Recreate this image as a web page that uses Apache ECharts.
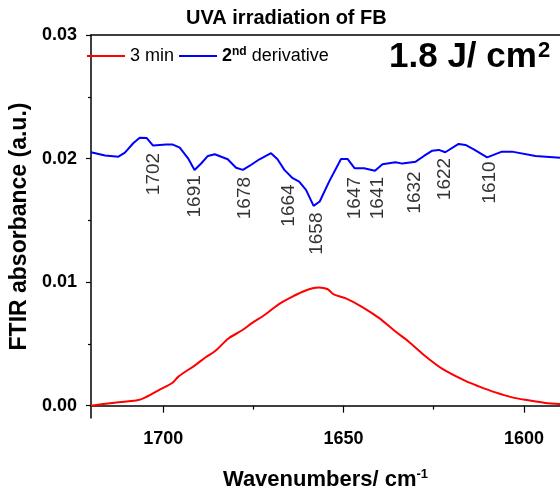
<!DOCTYPE html>
<html>
<head>
    <meta charset="utf-8">
    <title>UVA irradiation of FB</title>
    <script src="https://cdn.jsdelivr.net/npm/echarts@6/dist/echarts.min.js"></script>
</head>
<body style="margin:0">
<div id="main" style="width: 560px;height:492px;"></div>
<script type="text/javascript">
    // 3 min spectrum
    var wn3min = [1720, 1714, 1707.2, 1704.9, 1700.7, 1697.5, 1695.7, 1691, 1688.3, 1685.5, 1681.8, 1678.1, 1675.3,
        1671.6, 1668, 1664.3, 1661.5, 1658.6, 1656.8, 1654.5, 1652.7, 1649.5, 1644.9, 1640.2, 1635.6, 1632,
        1627.3, 1622.7, 1616.2, 1612.5, 1607.9, 1603.3, 1598.7, 1594.1, 1590];
    var abs3min = [0.0000, 0.00022, 0.00043, 0.00067, 0.00134, 0.00183, 0.00237, 0.0033, 0.0039, 0.00444, 0.00546, 0.0061, 0.0067,
        0.0074, 0.0082, 0.0088, 0.0092, 0.0095, 0.00957, 0.00944, 0.0090, 0.0087, 0.0080, 0.0071, 0.0060, 0.0052,
        0.0040, 0.0030, 0.0020, 0.00156, 0.00107, 0.00067, 0.00043, 0.00022, 0.00014];

    // 2nd derivative (offset)
    var wnDeriv = [1720, 1716.1, 1712.4, 1710.6, 1708.3, 1706.5, 1704.6, 1702.8, 1699.1, 1697.3, 1695.4, 1693.1, 1691.3,
        1689.4, 1687.6, 1685.7, 1682.1, 1679.8, 1677.9, 1676.1, 1673.3, 1670.1, 1668.3, 1666.4, 1664.1, 1662.3,
        1660.4, 1658.3, 1656.6, 1654, 1650.7, 1648.9, 1646.9, 1644.3, 1641.3, 1639.2, 1635.6, 1633.7, 1630,
        1627.7, 1625.4, 1623.6, 1621.8, 1618.1, 1616.2, 1613.9, 1610.2, 1606.1, 1603.3, 1596.8, 1590];
    var absDeriv = [0.02051, 0.02024, 0.02015, 0.02048, 0.02124, 0.02169, 0.02167, 0.02105, 0.02113, 0.02113, 0.02088, 0.02002, 0.01908,
        0.01962, 0.02021, 0.02035, 0.01994, 0.01926, 0.01908, 0.0194, 0.01994, 0.02043, 0.01994, 0.01908, 0.01841, 0.01813,
        0.01746, 0.01617, 0.01652, 0.01813, 0.01997, 0.01997, 0.01921, 0.01921, 0.01902, 0.01954, 0.0197, 0.01959, 0.01975,
        0.02021, 0.02064, 0.0207, 0.02051, 0.02118, 0.0211, 0.02075, 0.0201, 0.02056, 0.02056, 0.02021, 0.02007];

    // band labels and where they sit
    var peaks = ['1702', '1691', '1678', '1664', '1658', '1647', '1641', '1632', '1622', '1610'];
    var peakX = [1702.7, 1691.2, 1677.5, 1665.3, 1657.3, 1647.0, 1640.4, 1630.2, 1621.9, 1609.4];
    var peakY = [0.01875, 0.01694, 0.0168, 0.0162, 0.01392, 0.0168, 0.0168, 0.01725, 0.01834, 0.01806];

    var xMajor = [1600, 1650, 1700];
    var xMinor = [1625, 1675];
    var yMajor = [0, 0.01, 0.02, 0.03];
    var yMinor = [0.005, 0.015, 0.025];

    function pairs(xs, ys) {
        return xs.map(function (x, i) { return [x, ys[i]]; });
    }

    var FONT = 'Liberation Sans, Arial, sans-serif';
    var axisCol = '#000';

    var myChart = echarts.init(document.getElementById('main'));

    var option = {
        animation: false,
        textStyle: {fontFamily: FONT},
        title: [
            {
                text: 'UVA irradiation of FB',
                left: 181,
                top: 3,
                textStyle: {fontSize: 20, fontWeight: 'bold', color: '#000', fontFamily: FONT}
            },
            {
                text: '{a|1.8 J/ cm}{b|2}',
                left: 384,
                top: 35,
                textStyle: {
                    rich: {
                        a: {fontSize: 35, fontWeight: 'bold', color: '#000', fontFamily: FONT},
                        b: {fontSize: 22, fontWeight: 'bold', color: '#000', fontFamily: FONT, verticalAlign: 'top', padding: [0, 0, 10, 1]}
                    }
                }
            }
        ],
        legend: {
            left: 81,
            top: 41,
            itemWidth: 38,
            itemHeight: 2,
            itemGap: 4,
            data: ['3 min', '2nd derivative'],
            formatter: function (name) {
                if (name === '2nd derivative') {
                    return '{b|2}{s|nd}{t| derivative}';
                }
                return '{t|' + name + '}';
            },
            textStyle: {
                rich: {
                    t: {fontSize: 18, color: '#000', fontFamily: FONT},
                    b: {fontSize: 18, fontWeight: 'bold', color: '#000', fontFamily: FONT},
                    s: {fontSize: 12, fontWeight: 'bold', color: '#000', fontFamily: FONT, verticalAlign: 'top', padding: [0, 0, 8, 0]}
                }
            }
        },
        grid: {left: 91, right: 0, top: 35, bottom: 74, outerBoundsMode: 'none', containLabel: false},
        xAxis: [
            {
                type: 'value',
                min: 1590,
                max: 1720,
                inverse: true,
                position: 'bottom',
                name: '{n|Wavenumbers/ cm}{s|-1}',
                nameLocation: 'middle',
                nameGap: 50,
                nameTextStyle: {
                    rich: {
                        n: {fontSize: 22, fontWeight: 'bold', color: '#000', fontFamily: FONT},
                        s: {fontSize: 13, fontWeight: 'bold', color: '#000', fontFamily: FONT, verticalAlign: 'top', padding: [0, 0, 10, 0]}
                    }
                },
                axisLine: {lineStyle: {color: axisCol, width: 1.5}},
                axisTick: {length: 7, customValues: xMajor, lineStyle: {color: axisCol, width: 1.2}},
                axisLabel: {
                    customValues: xMajor, fontSize: 18, fontWeight: 'bold', color: '#000', margin: 12,
                    formatter: function (v) { return String(v); }
                },
                splitLine: {show: false}
            },
            {
                type: 'value',
                min: 1590,
                max: 1720,
                inverse: true,
                position: 'bottom',
                axisLine: {show: false},
                axisTick: {length: 4, customValues: xMinor, lineStyle: {color: axisCol, width: 1.2}},
                axisLabel: {show: false},
                splitLine: {show: false}
            },
            {
                type: 'value',
                min: 1590,
                max: 1720,
                inverse: true,
                position: 'top',
                axisLine: {lineStyle: {color: axisCol, width: 1.5}},
                axisTick: {show: false},
                axisLabel: {show: false},
                splitLine: {show: false}
            }
        ],
        yAxis: [
            {
                type: 'value',
                min: -0.001,
                max: 0.03,
                position: 'left',
                name: 'FTIR absorbance (a.u.)',
                nameLocation: 'middle',
                nameGap: 48,
                nameTextStyle: {fontSize: 23, fontWeight: 'bold', color: '#000'},
                axisLine: {show: true, lineStyle: {color: axisCol, width: 1.5}},
                axisTick: {show: true, length: 5, customValues: yMajor, lineStyle: {color: axisCol, width: 1.2}},
                axisLabel: {
                    customValues: yMajor, fontSize: 18, fontWeight: 'bold', color: '#000', margin: 14,
                    formatter: function (v) { return v.toFixed(2); }
                },
                splitLine: {show: false}
            },
            {
                type: 'value',
                min: -0.001,
                max: 0.03,
                position: 'left',
                axisLine: {show: false},
                axisTick: {show: true, length: 3, customValues: yMinor, lineStyle: {color: axisCol, width: 1.2}},
                axisLabel: {show: false},
                splitLine: {show: false}
            }
        ],
        series: [
            {
                name: '3 min',
                type: 'line',
                symbol: 'none',
                smooth: 0.3,
                color: '#ff0000',
                lineStyle: {color: '#ff0000', width: 2},
                data: pairs(wn3min, abs3min)
            },
            {
                name: '2nd derivative',
                type: 'line',
                symbol: 'none',
                color: '#0000ff',
                lineStyle: {color: '#0000ff', width: 2},
                data: pairs(wnDeriv, absDeriv)
            },
            {
                name: 'bands',
                type: 'scatter',
                symbolSize: 1,
                itemStyle: {color: 'rgba(0,0,0,0)'},
                silent: true,
                label: {
                    show: true,
                    position: 'inside',
                    rotate: 90,
                    fontSize: 19,
                    color: '#000',
                    fontFamily: FONT,
                    formatter: function (p) { return peaks[p.dataIndex]; }
                },
                data: pairs(peakX, peakY)
            }
        ]
    };

    myChart.setOption(option);
</script>
</body>
</html>
